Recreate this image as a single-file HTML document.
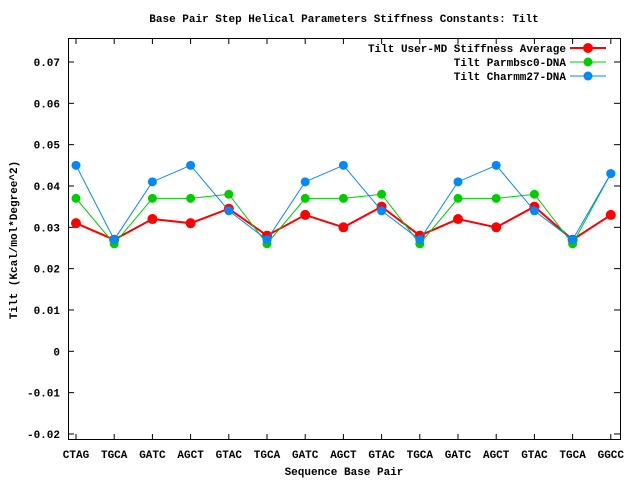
<!DOCTYPE html>
<html><head><style>body{margin:0;background:#fff}svg{display:block}text{font-family:"Liberation Mono","DejaVu Sans Mono",monospace;font-weight:bold;font-size:11px;fill:#000}</style></head>
<body>
<svg width="640" height="480" xmlns="http://www.w3.org/2000/svg">
<rect width="640" height="480" fill="#fff"/>
<text x="344" y="22" text-anchor="middle">Base Pair Step Helical Parameters Stiffness Constants: Tilt</text>
<rect x="68.5" y="38.5" width="552" height="401" fill="none" stroke="#000"/>
<g id="g"></g>
<text x="344" y="475" text-anchor="middle">Sequence Base Pair</text>
<text transform="translate(17,240) rotate(-90)" text-anchor="middle">Tilt (Kcal/mol*Degree^2)</text>
<text x="566" y="52" text-anchor="end">Tilt User-MD Stiffness Average</text>
<text x="566" y="66" text-anchor="end">Tilt Parmbsc0-DNA</text>
<text x="566" y="80" text-anchor="end">Tilt Charmm27-DNA</text>
<line x1="570" y1="48" x2="606" y2="48" stroke="#f00" stroke-width="2"/><circle cx="588" cy="48" r="5" fill="#f00"/>
<line x1="570" y1="62" x2="606" y2="62" stroke="#0c0"/><circle cx="588" cy="62" r="4.5" fill="#0c0"/>
<line x1="570" y1="76" x2="606" y2="76" stroke="#08f"/><circle cx="588" cy="76" r="4.5" fill="#08f"/>
</svg>
<script>
const g=document.getElementById('g'),NS="http://www.w3.org/2000/svg";
function el(t,a,txt){const e=document.createElementNS(NS,t);for(const k in a)e.setAttribute(k,a[k]);if(txt!=null)e.textContent=txt;g.appendChild(e);return e;}
const Y=v=>351.3-v*4133, X=i=>76+i*38.2;
for(let k=-2;k<=7;k++){const y=Y(k/100);el('line',{x1:68,y1:y,x2:74,y2:y,stroke:'#000'});el('line',{x1:614,y1:y,x2:620,y2:y,stroke:'#000'});
el('text',{x:60,y:y+4,'text-anchor':'end'},k==0?'0':(k/100).toFixed(2));}
const labs="CTAG TGCA GATC AGCT GTAC TGCA GATC AGCT GTAC TGCA GATC AGCT GTAC TGCA GGCC".split(' ');
labs.forEach((l,i)=>{const x=X(i);el('line',{x1:x,y1:440,x2:x,y2:434,stroke:'#000'});el('line',{x1:x,y1:38,x2:x,y2:44,stroke:'#000'});el('text',{x:x,y:458,'text-anchor':'middle'},l);});
const S=[
['#f00',2,5,[.031,.027,.032,.031,.0345,.028,.033,.030,.035,.028,.032,.030,.035,.027,.033]],
['#0c0',1,4.5,[.037,.026,.037,.037,.038,.026,.037,.037,.038,.026,.037,.037,.038,.026,.043]],
['#08f',1,4.5,[.045,.027,.041,.045,.034,.027,.041,.045,.034,.027,.041,.045,.034,.027,.043]]];
S.forEach(([c,w,r,d])=>{el('polyline',{points:d.map((v,i)=>X(i)+','+Y(v)).join(' '),fill:'none',stroke:c,'stroke-width':w});d.forEach((v,i)=>el('circle',{cx:X(i),cy:Y(v),r:r,fill:c}));});
</script>
</body></html>
